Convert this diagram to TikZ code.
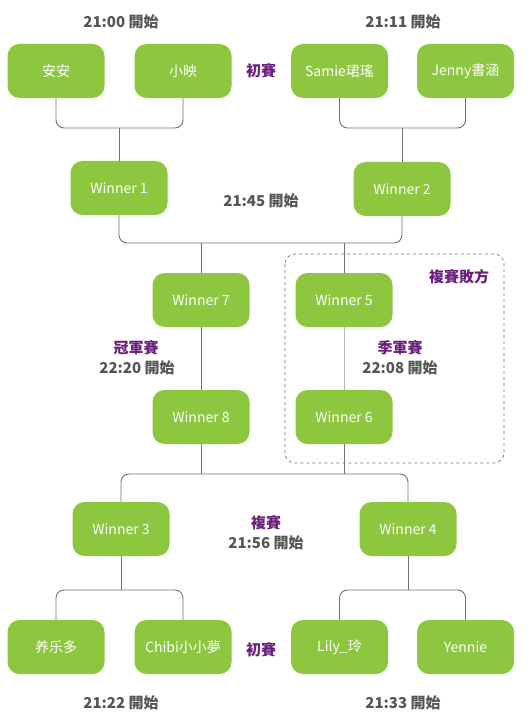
\documentclass[tikz,border=0pt]{standalone}
\usepackage{fontspec}
\setmainfont{Noto Sans CJK TC}
\usetikzlibrary{positioning}
\definecolor{bracket-green}{HTML}{8DC63F}
\definecolor{bracket-purple}{HTML}{6B1E7D}
\definecolor{bracket-gray}{HTML}{555555}
\definecolor{bracket-line}{HTML}{707070}
\colorlet{player}{bracket-green}
\colorlet{stage}{bracket-purple}
\tikzset{
  player-box/.style={fill=player, rounded corners=12pt, minimum width=97pt,
    minimum height=54pt, inner sep=0pt, text=white, font=\fontsize{14}{16}\selectfont},
  start-time/.style={text=bracket-gray, font=\bfseries\fontsize{15}{17}\selectfont},
  stage-name/.style={text=stage, font=\bfseries\fontsize{15}{17}\selectfont},
  link/.style={draw=bracket-line, line width=0.9pt, rounded corners=8pt},
}
\begin{document}
\begin{tikzpicture}[x=1pt, y=-1pt]
\useasboundingbox (0,0) rectangle (531,727);
% losers group
\draw[bracket-line, dashed, line width=0.7pt, rounded corners=10pt] (285,254) rectangle (504,463);
% first round, top
\node[player-box] at (56, 71) (anan) {安安};
\node[player-box] at (183, 71) (xiaoying) {小映};
\node[player-box] at (339.5, 71) (samie) {Samie珺瑤};
\node[player-box] at (465.5, 71) (jenny) {Jenny書涵};
% second round
\node[player-box] at (119, 188) (winner1) {Winner 1};
\node[player-box] at (402, 189) (winner2) {Winner 2};
\node[player-box] at (201, 300) (winner7) {Winner 7};
\node[player-box] at (344, 300) (winner5) {Winner 5};
\node[player-box] at (201, 417) (winner8) {Winner 8};
\node[player-box] at (344, 417) (winner6) {Winner 6};
\node[player-box] at (121, 529) (winner3) {Winner 3};
\node[player-box] at (408, 529) (winner4) {Winner 4};
% first round, bottom
\node[player-box] at (56, 647) (yangleduo) {养乐多};
\node[player-box] at (183, 647) (chibi) {Chibi小小夢};
\node[player-box] at (339.5, 647) (lily) {Lily\_玲};
\node[player-box] at (465.5, 647) (yennie) {Yennie};
% joints
\coordinate (top left) at (119, 128);
\coordinate (top right) at (402, 128);
\coordinate (semi top) at (260, 243);
\coordinate (semi bottom) at (265, 474);
\coordinate (bottom left) at (121, 590);
\coordinate (bottom right) at (408, 590);
% connectors
\draw[link] (anan.south) |- (top left) -| (xiaoying.south);
\draw[link] (top left) -- (winner1.north);
\draw[link] (samie.south) |- (top right) -| (jenny.south);
\draw[link] (top right) -- (winner2.north);
\draw[link] (winner1.south) |- (semi top) -| (winner2.south);
\draw[link] (winner7.north |- semi top) -- (winner7.north);
\draw[link] (winner5.north |- semi top) -- (winner5.north);
\draw[link] (winner7) -- (winner8);
\draw[link, draw=bracket-line!50] (winner5) -- (winner6);
\draw[link] (winner3.north) |- (semi bottom) -| (winner4.north);
\draw[link] (winner8.south) -- (winner8.south |- semi bottom);
\draw[link] (winner6.south) -- (winner6.south |- semi bottom);
\draw[link] (yangleduo.north) |- (bottom left) -| (chibi.north);
\draw[link] (bottom left) -- (winner3.south);
\draw[link] (lily.north) |- (bottom right) -| (yennie.north);
\draw[link] (bottom right) -- (winner4.south);
% labels
\node[start-time] at (121, 22) (time a) {21:00 開始};
\node[start-time] at (403, 22) (time b) {21:11 開始};
\node[stage-name] at (261, 71) (first top) {初賽};
\node[start-time] at (261, 201) (time c) {21:45 開始};
\node[stage-name] at (459, 277) (losers) {複賽敗方};
\node[stage-name] at (400, 348) (third place) {季軍賽};
\node[start-time] at (400, 368) (time d) {22:08 開始};
\node[stage-name] at (136, 348) (final) {冠軍賽};
\node[start-time] at (137, 368) (time e) {22:20 開始};
\node[stage-name] at (266, 523) (semi) {複賽};
\node[start-time] at (266, 543) (time f) {21:56 開始};
\node[stage-name] at (261, 650) (first bottom) {初賽};
\node[start-time] at (121, 703) (time g) {21:22 開始};
\node[start-time] at (403, 703) (time h) {21:33 開始};
\end{tikzpicture}
\end{document}
